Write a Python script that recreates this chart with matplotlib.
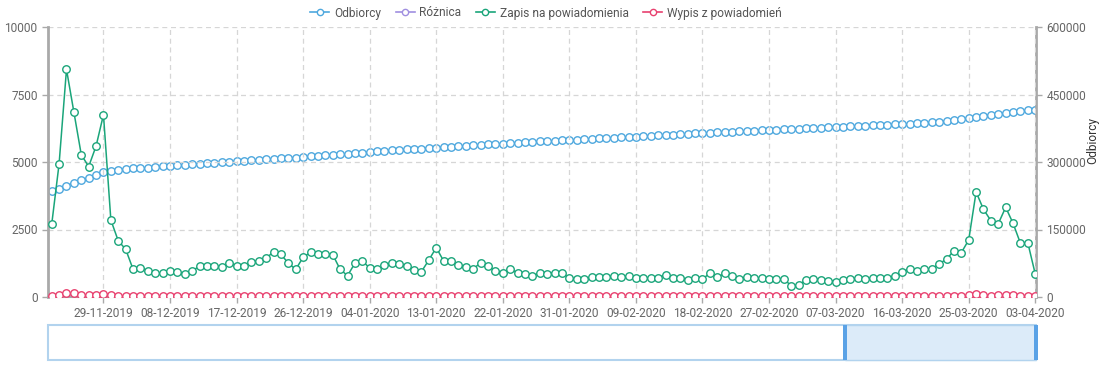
import matplotlib
matplotlib.use("Agg")
import matplotlib.pyplot as plt
from matplotlib.patches import Rectangle
from matplotlib.lines import Line2D
import pandas as pd

plt.rcParams['font.family'] = ['Roboto', 'DejaVu Sans']

dates = pd.date_range('2019-11-22', '2020-04-03', freq='D')
date_labels = [d.strftime('%d-%m-%Y') for d in dates]

odbiorcy = [
    234800, 239300, 247400, 254100, 259300, 265200, 271900, 277800, 280700, 283000,
    284500, 285900, 286700, 287400, 288900, 290100, 291300, 292400, 293600, 294700,
    295900, 297000, 298100, 299200, 300200, 301200, 302300, 303400, 304500, 305600,
    306700, 307800, 308900, 310000, 311100, 312300, 313500, 314700, 315900, 317100,
    318300, 319500, 320800, 322200, 323400, 324500, 325600, 326700, 327800, 328900,
    330000, 331100, 332200, 333200, 334200, 335200, 336200, 337200, 338200, 339200,
    340100, 341100, 342000, 342900, 343800, 344700, 345600, 346400, 347200, 348000,
    348900, 349700, 350600, 351500, 352400, 353200, 354000, 354900, 355800, 356600,
    357500, 358400, 359300, 360200, 361100, 362000, 362800, 363600, 364400, 365200,
    366000, 366800, 367500, 368200, 368900, 369600, 370400, 371100, 371800, 372500,
    373200, 374000, 374700, 375400, 376100, 377000, 377800, 378500, 379200, 380000,
    380700, 381400, 382100, 382900, 383700, 384400, 385300, 386300, 387300, 388300,
    389500, 390800, 392400, 394500, 397800, 400500, 402900, 405000, 407000, 409000,
    411000, 412800, 414500, 416100,
]

zapis = [
    2690, 4930, 8430, 6860, 5270, 4830, 5590, 6750, 2850, 2080,
    1770, 1030, 1090, 975, 880, 880, 960, 940, 840, 975,
    1135, 1150, 1135, 1120, 1250, 1160, 1150, 1300, 1345, 1430,
    1680, 1580, 1250, 1025, 1470, 1655, 1590, 1580, 1570, 1025,
    790, 1250, 1333, 1075, 1025, 1170, 1260, 1210, 1135, 1015,
    940, 1370, 1830, 1333, 1320, 1170, 1100, 1037, 1270, 1160,
    950, 900, 1037, 900, 840, 778, 900, 864, 900, 877,
    716, 654, 654, 735, 740, 728, 790, 740, 765, 691,
    716, 716, 716, 827, 716, 691, 642, 691, 667, 877,
    728, 877, 778, 667, 753, 704, 700, 670, 680, 660,
    420, 430, 640, 670, 640, 610, 570, 620, 670, 690,
    650, 700, 720, 700, 760, 937, 1037, 975, 1025, 1037,
    1235, 1395, 1716, 1642, 2111, 3889, 3247, 2827, 2716, 3321,
    2728, 1987, 2000, 851,
]

wypis = [
    37, 74, 136, 136, 80, 80, 80, 120, 60, 37,
    30, 25, 30, 25, 20, 25, 30, 25, 20, 25,
    25, 30, 25, 20, 25, 30, 25, 30, 25, 25,
    30, 25, 20, 25, 30, 25, 20, 25, 30, 25,
    25, 30, 25, 20, 25, 30, 25, 20, 25, 30,
    25, 25, 45, 30, 25, 20, 25, 30, 25, 20,
    25, 30, 25, 20, 25, 30, 25, 20, 25, 30,
    25, 20, 25, 30, 25, 20, 25, 30, 25, 20,
    25, 30, 25, 20, 25, 30, 25, 20, 25, 30,
    25, 20, 25, 30, 25, 20, 25, 30, 25, 20,
    25, 30, 25, 20, 25, 30, 25, 20, 25, 30,
    25, 20, 25, 30, 25, 20, 25, 30, 25, 20,
    30, 35, 40, 45, 60, 100, 70, 55, 60, 75,
    60, 55, 50, 40,
]

roznica = [
    10, 12, 15, 14, 12, 12, 12, 14, 10, 10,
    8, 8, 8, 8, 8, 8, 8, 8, 8, 8,
    8, 8, 8, 8, 8, 8, 8, 8, 8, 8,
    8, 8, 8, 8, 8, 8, 8, 8, 8, 8,
    8, 8, 8, 8, 8, 8, 8, 8, 8, 8,
    8, 8, 8, 8, 8, 8, 8, 8, 8, 8,
    8, 8, 8, 8, 8, 8, 8, 8, 8, 8,
    8, 8, 8, 8, 8, 8, 8, 8, 8, 8,
    8, 8, 8, 8, 8, 8, 8, 8, 8, 8,
    8, 8, 8, 8, 8, 8, 8, 8, 8, 8,
    8, 8, 8, 8, 8, 8, 8, 8, 8, 8,
    8, 8, 8, 8, 8, 8, 8, 8, 8, 8,
    10, 10, 12, 12, 14, 20, 16, 14, 14, 16,
    14, 12, 12, 10,
]

left_ticks = [0, 2500, 5000, 7500, 10000]
right_ticks = [0, 150000, 300000, 450000, 600000]

C_BLUE = '#4ea8de'
C_PURPLE = '#a08fe0'
C_GREEN = '#1aa57a'
C_RED = '#e8416f'
AX_COLOR = '#a9a9a9'
TXT = '#666666'

W, H = 1114, 369
fig = plt.figure(figsize=(W / 100, H / 100), dpi=100)
ax = fig.add_axes([48 / W, 1 - 297 / H, (1036 - 48) / W, (297 - 27) / H])
ax2 = ax.twinx()
ax.set_zorder(ax2.get_zorder() + 1)
ax.patch.set_visible(False)

x = list(range(len(dates)))
mk = dict(marker='o', markersize=5.4, markerfacecolor='white', markeredgewidth=1.0)

ax2.plot(x, odbiorcy, color=C_BLUE, lw=1.0, **mk, markeredgecolor=C_BLUE, zorder=2)
ax.plot(x, roznica, color=C_PURPLE, lw=1.0, **mk, markeredgecolor=C_PURPLE, zorder=2)
ax.plot(x, zapis, color=C_GREEN, lw=1.1, **mk, markeredgecolor=C_GREEN, zorder=3)
ax.plot(x, wypis, color=C_RED, lw=1.0, **mk, markeredgecolor=C_RED, zorder=4)

ax.set_xlim(-0.5, 133.1)
ax.set_ylim(0, 10000)
ax2.set_ylim(0, 600000)
ax.set_yticks(left_ticks)
ax2.set_yticks(right_ticks)
ax.set_yticklabels([str(t) for t in left_ticks])
ax2.set_yticklabels([str(t) for t in right_ticks])

xt = list(range(7, len(dates), 9))
ax.set_xticks(xt)
ax.set_xticklabels([date_labels[i] for i in xt])

ax.grid(True, color='#d6d6d6', linestyle=(0, (4, 3)), linewidth=0.9)
ax.set_axisbelow(True)

for a in (ax, ax2):
    for s in a.spines.values():
        s.set_visible(False)
ax.spines['left'].set_visible(True)
ax.spines['left'].set_color(AX_COLOR)
ax.spines['left'].set_linewidth(2)
ax.spines['bottom'].set_visible(True)
ax.spines['bottom'].set_color(AX_COLOR)
ax.spines['bottom'].set_linewidth(1.5)
ax2.spines['right'].set_visible(True)
ax2.spines['right'].set_color(AX_COLOR)
ax2.spines['right'].set_linewidth(2)

ax.tick_params(axis='both', colors=AX_COLOR, labelcolor=TXT, labelsize=8.6, length=4, width=1)
ax2.tick_params(axis='y', colors=AX_COLOR, labelcolor=TXT, labelsize=8.6, length=4, width=1)
ax.tick_params(axis='x', pad=3)

fig.text(1093 / W, 1 - 140 / H, 'Odbiorcy', rotation=90, ha='center', va='center',
         fontsize=8.6, color='#333333')

handles = [
    Line2D([], [], color=C_BLUE, lw=1.2, marker='o', markersize=4.5, markerfacecolor='white', markeredgecolor=C_BLUE),
    Line2D([], [], color=C_PURPLE, lw=1.2, marker='o', markersize=4.5, markerfacecolor='white', markeredgecolor=C_PURPLE),
    Line2D([], [], color=C_GREEN, lw=1.2, marker='o', markersize=4.5, markerfacecolor='white', markeredgecolor=C_GREEN),
    Line2D([], [], color=C_RED, lw=1.2, marker='o', markersize=4.5, markerfacecolor='white', markeredgecolor=C_RED),
]
fig.legend(handles, ['Odbiorcy', 'Różnica', 'Zapis na powiadomienia', 'Wypis z powiadomień'],
           loc='center', bbox_to_anchor=(546 / W, 1 - 13 / H), ncol=4, frameon=False,
           fontsize=8.6, labelcolor='#555555', handlelength=1.6, handletextpad=0.4,
           columnspacing=1.2)

# data zoom slider
sl = fig.add_axes([48 / W, 1 - 360 / H, (1036 - 48) / W, (360 - 325) / H])
sl.set_xlim(0, 1)
sl.set_ylim(0, 1)
sl.axis('off')
sl.add_patch(Rectangle((0, 0), 1, 1, facecolor='white', edgecolor='#b2d3ee', lw=1.5,
                       transform=sl.transAxes, clip_on=False))
x0 = (845 - 48) / (1036 - 48)
sl.add_patch(Rectangle((x0, 0), 1 - x0, 1, facecolor='#dcebf9', edgecolor='#b2d3ee', lw=1.0,
                       clip_on=False))
for xx in (x0, 1.0):
    sl.add_patch(Rectangle((xx - 0.002, 0), 0.004, 1, facecolor='#5aa2e6', edgecolor='none',
                           clip_on=False))

fig.savefig('out.png', dpi=100)
